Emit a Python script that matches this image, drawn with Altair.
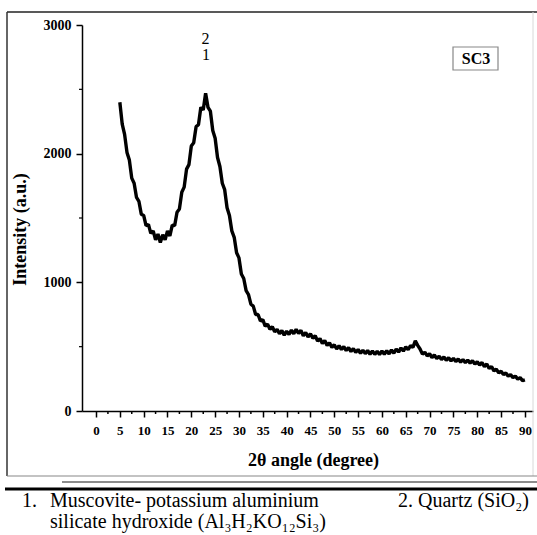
import altair as alt
import pandas as pd

# ---- data ----
angle_start = 5.0
angle_step = 0.5
intensity = [
    2400, 2230, 2150, 2010, 1950, 1810, 1770, 1660, 1630, 1530,
    1520, 1440, 1450, 1380, 1400, 1330, 1375, 1310, 1370, 1330,
    1400, 1360, 1445, 1440, 1545, 1570, 1700, 1740, 1880, 1915,
    2060, 2085, 2210, 2225, 2360, 2340, 2470, 2360, 2330, 2180,
    2120, 1970, 1900, 1770, 1720, 1580, 1520, 1400, 1350, 1230,
    1190, 1065, 1030, 935, 905, 830, 815, 750, 750, 700,
    710, 660, 675, 635, 655, 615, 635, 600, 625, 590,
    620, 595, 628, 600, 635, 603, 627, 585, 610, 575,
    600, 565, 585, 543, 563, 525, 547, 510, 530, 494,
    515, 482, 508, 478, 500, 470, 493, 462, 485, 455,
    478, 448, 473, 446, 470, 441, 467, 440, 465, 438,
    466, 441, 469, 444, 474, 450, 482, 458, 490, 466,
    498, 476, 508, 495, 545, 510, 482, 442, 457, 428,
    445, 415, 435, 407, 426, 400, 420, 394, 414, 389,
    409, 384, 404, 380, 400, 376, 396, 372, 392, 364,
    384, 357, 377, 345, 366, 330, 346, 312, 326, 296,
    309, 283, 296, 271, 283, 259, 271, 248, 259, 236,
    242,
]
angle = [angle_start + angle_step * i for i in range(len(intensity))]

x_major = [0, 5, 10, 15, 20, 25, 30, 35, 40, 45, 50, 55, 60, 65, 70, 75, 80, 85, 90]
x_minor = [2.5, 7.5, 12.5, 17.5, 22.5, 27.5, 32.5, 37.5, 42.5, 47.5, 52.5, 57.5,
           62.5, 67.5, 72.5, 77.5, 82.5, 87.5]
y_major = [0, 1000, 2000, 3000]
y_minor = [500, 1500, 2500]

peak_labels = ["2", "1"]
peak_angle = [23.0, 23.1]
peak_height = [2895, 2770]

sample_name = "SC3"
x_title = "2θ angle (degree)"
y_title = "Intensity (a.u.)"
note1_num = "1."
note1_a = "Muscovite- potassium aluminium"
note1_b = "silicate hydroxide (Al₃H₂KO₁₂Si₃)"
note2_num = "2."
note2_a = "Quartz (SiO₂)"

# ---- chart ----
W, H = 451, 386
SERIF = "Liberation Serif"

df = pd.DataFrame({"angle": angle, "intensity": intensity})
xs = alt.Scale(domain=[-2.94, 91.7], nice=False, zero=False)
ys = alt.Scale(domain=[0, 3000], nice=False)

x_axis = alt.Axis(values=x_major, title=x_title, tickSize=6, labelPadding=7,
                  labelFont=SERIF, labelFontWeight="bold", labelFontSize=13,
                  labelOverlap=False, format="d",
                  titleFont=SERIF, titleFontWeight="bold", titleFontSize=18,
                  titleX=231, titleY=40, grid=False, labelFlush=False)
y_axis = alt.Axis(values=y_major, title=y_title, tickSize=6, labelPadding=5,
                  labelFont=SERIF, labelFontWeight="bold", labelFontSize=14,
                  labelOverlap=False, format="d",
                  titleFont=SERIF, titleFontWeight="bold", titleFontSize=18,
                  titleX=-53, titleY=204, grid=False, labelFlush=False)

line = alt.Chart(df).mark_line(color="black", strokeWidth=3.4, strokeJoin="bevel").encode(
    x=alt.X("angle:Q", scale=xs, axis=x_axis),
    y=alt.Y("intensity:Q", scale=ys, axis=y_axis),
)

xmin_df = pd.DataFrame({"angle": x_minor})
xminor = alt.Chart(xmin_df).mark_rule(color="black", strokeWidth=1.5).encode(
    x=alt.X("angle:Q", scale=xs, axis=x_axis), y=alt.value(H), y2=alt.value(H + 3))

ymin_df = pd.DataFrame({"intensity": y_minor})
yminor = alt.Chart(ymin_df).mark_rule(color="black", strokeWidth=1.2).encode(
    y=alt.Y("intensity:Q", scale=ys, axis=y_axis), x=alt.value(-3), x2=alt.value(0))

pk_df = pd.DataFrame({"angle": peak_angle, "intensity": peak_height, "t": peak_labels})
peaks = alt.Chart(pk_df).mark_text(font=SERIF, fontSize=16, color="black").encode(
    x=alt.X("angle:Q", scale=xs, axis=x_axis),
    y=alt.Y("intensity:Q", scale=ys, axis=y_axis), text="t:N")

one = pd.DataFrame({"a": [0]})

def rule(x1, x2, y1, y2, color, w):
    return alt.Chart(one).mark_rule(color=color, strokeWidth=w).encode(
        x=alt.value(x1), x2=alt.value(x2), y=alt.value(y1), y2=alt.value(y2))

frame = [
    rule(-75, 455, -13, -13, "#222", 1.5),
    rule(-75, -75, -13, 451, "#333", 1.5),
    rule(451, 451, -13, 451, "#d8d8d8", 1),
    rule(-75, 455, 451, 451, "#888", 1.2),
    rule(-20, 455, 457, 457, "#666", 1.5),
    rule(-77, 455, 464, 464, "black", 3),
]

box = alt.Chart(one).mark_rect(fill="white", stroke="#888", strokeWidth=1.2).encode(
    x=alt.value(371), x2=alt.value(416), y=alt.value(22), y2=alt.value(45))

def txt(s, x, y, size=20, weight="normal", align="left", baseline="alphabetic"):
    return alt.Chart(one).mark_text(text=s, font=SERIF, fontSize=size, fontWeight=weight,
                                    align=align, baseline=baseline, color="black").encode(
        x=alt.value(x), y=alt.value(y))

texts = [
    txt(sample_name, 394, 34, size=16, weight="bold", align="center", baseline="middle"),
    txt(note1_num, -60, 482),
    txt(note1_a, -32, 482),
    txt(note1_b, -32, 503),
    txt(note2_num, 316, 482),
    txt(note2_a, 336, 482),
]

chart = alt.layer(line, xminor, yminor, peaks, *frame, box, *texts).properties(
    width=W, height=H,
    padding={"left": 82, "top": 25, "right": 4, "bottom": 124},
    autosize=alt.AutoSizeParams(type="none"),
    background="white",
).configure_view(stroke=None).configure_axis(
    domainColor="black", domainWidth=1.5, tickColor="black", tickWidth=1.5,
    labelColor="black", titleColor="black", labelOverlap=False,
)

chart.save("out.html", embed_options={"renderer": "svg", "actions": False})
